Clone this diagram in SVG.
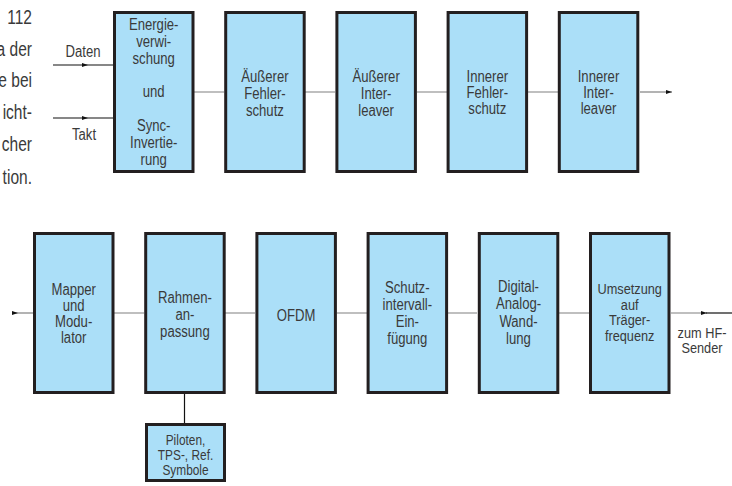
<svg xmlns="http://www.w3.org/2000/svg" width="732" height="486" viewBox="0 0 732 486">
<style>
.box{fill:#abdff8;stroke:#231f20;stroke-width:3}
.lbl{font-family:"Liberation Sans",Arial,sans-serif;font-size:16px;fill:#3a3a3a;text-anchor:middle}
.sm{font-size:14.5px}
.frag{font-family:"Liberation Sans",Arial,sans-serif;font-size:21px;fill:#3a3a3a;text-anchor:end}
.conn{stroke:#808080;stroke-width:1.2;fill:none}
.wire{stroke:#111;stroke-width:1.2;fill:none}
</style>
<defs>
<marker id="ah" viewBox="0 0 6 4" refX="6" refY="2" markerWidth="6" markerHeight="4" markerUnits="userSpaceOnUse" orient="auto">
<path d="M0 0 L6 2 L0 4 z" fill="#111"/>
</marker>
</defs>
<rect width="732" height="486" fill="#fff"/>

<g id="page-text">
<text class="frag" transform="translate(32 0) scale(0.74 1)"><tspan x="0" y="24">112</tspan><tspan x="0" y="56">a der</tspan><tspan x="0" y="87">e bei</tspan><tspan x="0" y="119">icht-</tspan><tspan x="0" y="151">cher</tspan><tspan x="0" y="184">tion.</tspan></text>
</g>

<g id="connectors">
<path class="wire" d="M53 65 L88 65 L113 65" marker-mid="url(#ah)"/>
<path class="wire" d="M53 118 L88 118 L113 118" marker-mid="url(#ah)"/>
<path class="conn" d="M194 92 H224 M305 92 H335 M417 92 H447 M528 92 H558"/>
<path class="conn" d="M640 92 H672" marker-end="url(#ah)"/>
<path class="conn" d="M12 313 L18 313 L33 313" marker-mid="url(#ah)"/>
<path class="conn" d="M114 313 H144 M225 313 H255 M337 313 H367 M447 313 H477 M559 313 H589"/>
<path class="conn" d="M671 313 H707" marker-end="url(#ah)"/>
<path class="wire" d="M706 313 H732"/>
<path class="wire" d="M184.5 394 V423"/>
</g>

<g id="labels">
<text class="lbl" transform="translate(83 0) scale(0.82 1)"><tspan x="0" y="57">Daten</tspan></text>
<text class="lbl" transform="translate(84 0) scale(0.82 1)"><tspan x="0" y="140">Takt</tspan></text>
<text class="lbl sm" transform="translate(702 0) scale(0.88 1)"><tspan x="0" y="338">zum HF-</tspan><tspan x="0" y="353">Sender</tspan></text>
</g>

<g id="n-energie">
<rect class="box" x="114.5" y="12.5" width="78.5" height="159"/>
<text class="lbl" transform="translate(153.7 0) scale(0.82 1)"><tspan x="0" y="30">Energie-</tspan><tspan x="0" y="47">verwi-</tspan><tspan x="0" y="64">schung</tspan><tspan x="0" y="97">und</tspan><tspan x="0" y="131">Sync-</tspan><tspan x="0" y="148">Invertie-</tspan><tspan x="0" y="165">rung</tspan></text>
</g>
<g id="n-aeusserer-fehlerschutz">
<rect class="box" x="225.7" y="12.5" width="78.5" height="159"/>
<text class="lbl" transform="translate(264.9 0) scale(0.82 1)"><tspan x="0" y="82">Äußerer</tspan><tspan x="0" y="99">Fehler-</tspan><tspan x="0" y="116">schutz</tspan></text>
</g>
<g id="n-aeusserer-interleaver">
<rect class="box" x="336.9" y="12.5" width="78.5" height="159"/>
<text class="lbl" transform="translate(376.1 0) scale(0.82 1)"><tspan x="0" y="82">Äußerer</tspan><tspan x="0" y="99">Inter-</tspan><tspan x="0" y="116">leaver</tspan></text>
</g>
<g id="n-innerer-fehlerschutz">
<rect class="box" x="448.1" y="12.5" width="78.5" height="159"/>
<text class="lbl" transform="translate(487.3 0) scale(0.82 1)"><tspan x="0" y="82">Innerer</tspan><tspan x="0" y="98">Fehler-</tspan><tspan x="0" y="114">schutz</tspan></text>
</g>
<g id="n-innerer-interleaver">
<rect class="box" x="559.3" y="12.5" width="78.5" height="159"/>
<text class="lbl" transform="translate(598.5 0) scale(0.82 1)"><tspan x="0" y="82">Innerer</tspan><tspan x="0" y="98">Inter-</tspan><tspan x="0" y="114">leaver</tspan></text>
</g>

<g id="n-mapper">
<rect class="box" x="34.5" y="233.5" width="78.5" height="159"/>
<text class="lbl" transform="translate(73.7 0) scale(0.82 1)"><tspan x="0" y="295">Mapper</tspan><tspan x="0" y="311">und</tspan><tspan x="0" y="327">Modu-</tspan><tspan x="0" y="343">lator</tspan></text>
</g>
<g id="n-rahmen">
<rect class="box" x="145.7" y="233.5" width="78.5" height="159"/>
<text class="lbl" transform="translate(184.9 0) scale(0.82 1)"><tspan x="0" y="303">Rahmen-</tspan><tspan x="0" y="320">an-</tspan><tspan x="0" y="337">passung</tspan></text>
</g>
<g id="n-ofdm">
<rect class="box" x="256.9" y="233.5" width="78.5" height="159"/>
<text class="lbl" transform="translate(296.1 0) scale(0.82 1)"><tspan x="0" y="321">OFDM</tspan></text>
</g>
<g id="n-schutzintervall">
<rect class="box" x="368.1" y="233.5" width="78.5" height="159"/>
<text class="lbl" transform="translate(407.3 0) scale(0.82 1)"><tspan x="0" y="293">Schutz-</tspan><tspan x="0" y="310">intervall-</tspan><tspan x="0" y="327">Ein-</tspan><tspan x="0" y="344">fügung</tspan></text>
</g>
<g id="n-da-wandlung">
<rect class="box" x="479.3" y="233.5" width="78.5" height="159"/>
<text class="lbl" transform="translate(518.5 0) scale(0.82 1)"><tspan x="0" y="292">Digital-</tspan><tspan x="0" y="309.5">Analog-</tspan><tspan x="0" y="327">Wand-</tspan><tspan x="0" y="344">lung</tspan></text>
</g>
<g id="n-umsetzung">
<rect class="box" x="590.5" y="233.5" width="78.5" height="159"/>
<text class="lbl sm" transform="translate(629.7 0) scale(0.88 1)"><tspan x="0" y="294">Umsetzung</tspan><tspan x="0" y="310">auf</tspan><tspan x="0" y="325.5">Träger-</tspan><tspan x="0" y="341">frequenz</tspan></text>
</g>

<g id="n-piloten">
<rect class="box" x="146.5" y="424.5" width="78" height="56"/>
<text class="lbl sm" transform="translate(185.5 0) scale(0.82 1)"><tspan x="0" y="445">Piloten,</tspan><tspan x="0" y="460">TPS-, Ref.</tspan><tspan x="0" y="475">Symbole</tspan></text>
</g>
</svg>
